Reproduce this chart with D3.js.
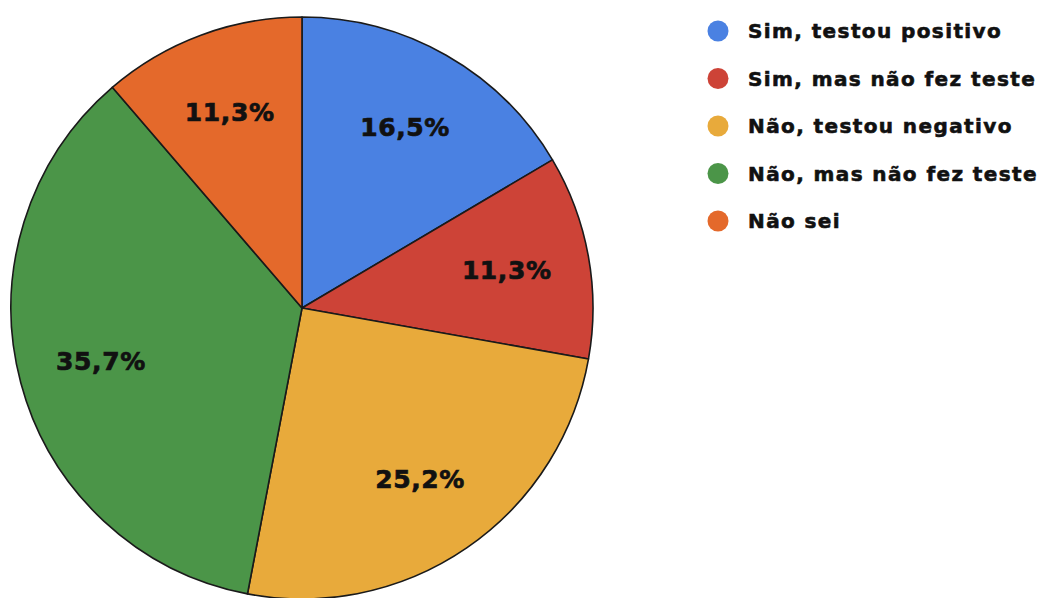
<!DOCTYPE html>
<html>
<head>
<meta charset="utf-8">
<script src="https://cdn.jsdelivr.net/npm/d3@7"></script>
<style>
  html, body { margin: 0; padding: 0; background: #fff; }
  svg { display: block; }
</style>
</head>
<body>
<svg id="chart" width="1045" height="598"></svg>
<script>
// Responses and their shares (%)
const categories = [
  "Sim, testou positivo",
  "Sim, mas não fez teste",
  "Não, testou negativo",
  "Não, mas não fez teste",
  "Não sei"
];
const values = [16.5, 11.3, 25.2, 35.7, 11.3];
const valueLabels = ["16,5%", "11,3%", "25,2%", "35,7%", "11,3%"];
const colors = ["#4a81e2", "#cd4337", "#e8aa3b", "#4b9548", "#e4692b"];

const svg = d3.select("#chart");
const cx = 302, cy = 308, radius = 291;

const data = categories.map((c, i) => ({ name: c, value: values[i], label: valueLabels[i], color: colors[i] }));

const pie = d3.pie().sort(null).value(d => d.value);
const arc = d3.arc().innerRadius(0).outerRadius(radius);
const labelArc = d3.arc().innerRadius(radius * 0.715).outerRadius(radius * 0.715);

const g = svg.append("g").attr("transform", `translate(${cx},${cy})`);

const arcs = pie(data);

g.selectAll("path.slice")
  .data(arcs)
  .join("path")
  .attr("class", "slice")
  .attr("d", arc)
  .attr("fill", d => d.data.color)
  .attr("stroke", "#1a1a1a")
  .attr("stroke-width", 1.6)
  .attr("stroke-linejoin", "round");

g.selectAll("text.value")
  .data(arcs)
  .join("text")
  .attr("class", "value")
  .attr("transform", d => `translate(${labelArc.centroid(d)})`)
  .attr("text-anchor", "middle")
  .attr("dominant-baseline", "central")
  .attr("font-family", "DejaVu Sans, Verdana, sans-serif")
  .attr("font-weight", "bold")
  .attr("font-size", 25)
  .attr("letter-spacing", 0.6)
  .attr("fill", "#111")
  .attr("stroke", "#111")
  .attr("stroke-width", 0.7)
  .text(d => d.data.label);

// Legend
const legend = svg.append("g").attr("transform", "translate(718,31)");
const item = legend.selectAll("g.item")
  .data(data)
  .join("g")
  .attr("class", "item")
  .attr("transform", (d, i) => `translate(0,${i * 47.5})`);

item.append("circle")
  .attr("r", 10.5)
  .attr("fill", d => d.color);

item.append("text")
  .attr("x", 30)
  .attr("dominant-baseline", "central")
  .attr("font-family", "DejaVu Sans, Verdana, sans-serif")
  .attr("font-weight", "bold")
  .attr("font-size", 20)
  .attr("letter-spacing", 1.4)
  .attr("fill", "#111")
  .attr("stroke", "#111")
  .attr("stroke-width", 0.6)
  .text(d => d.name);
</script>
</body>
</html>
